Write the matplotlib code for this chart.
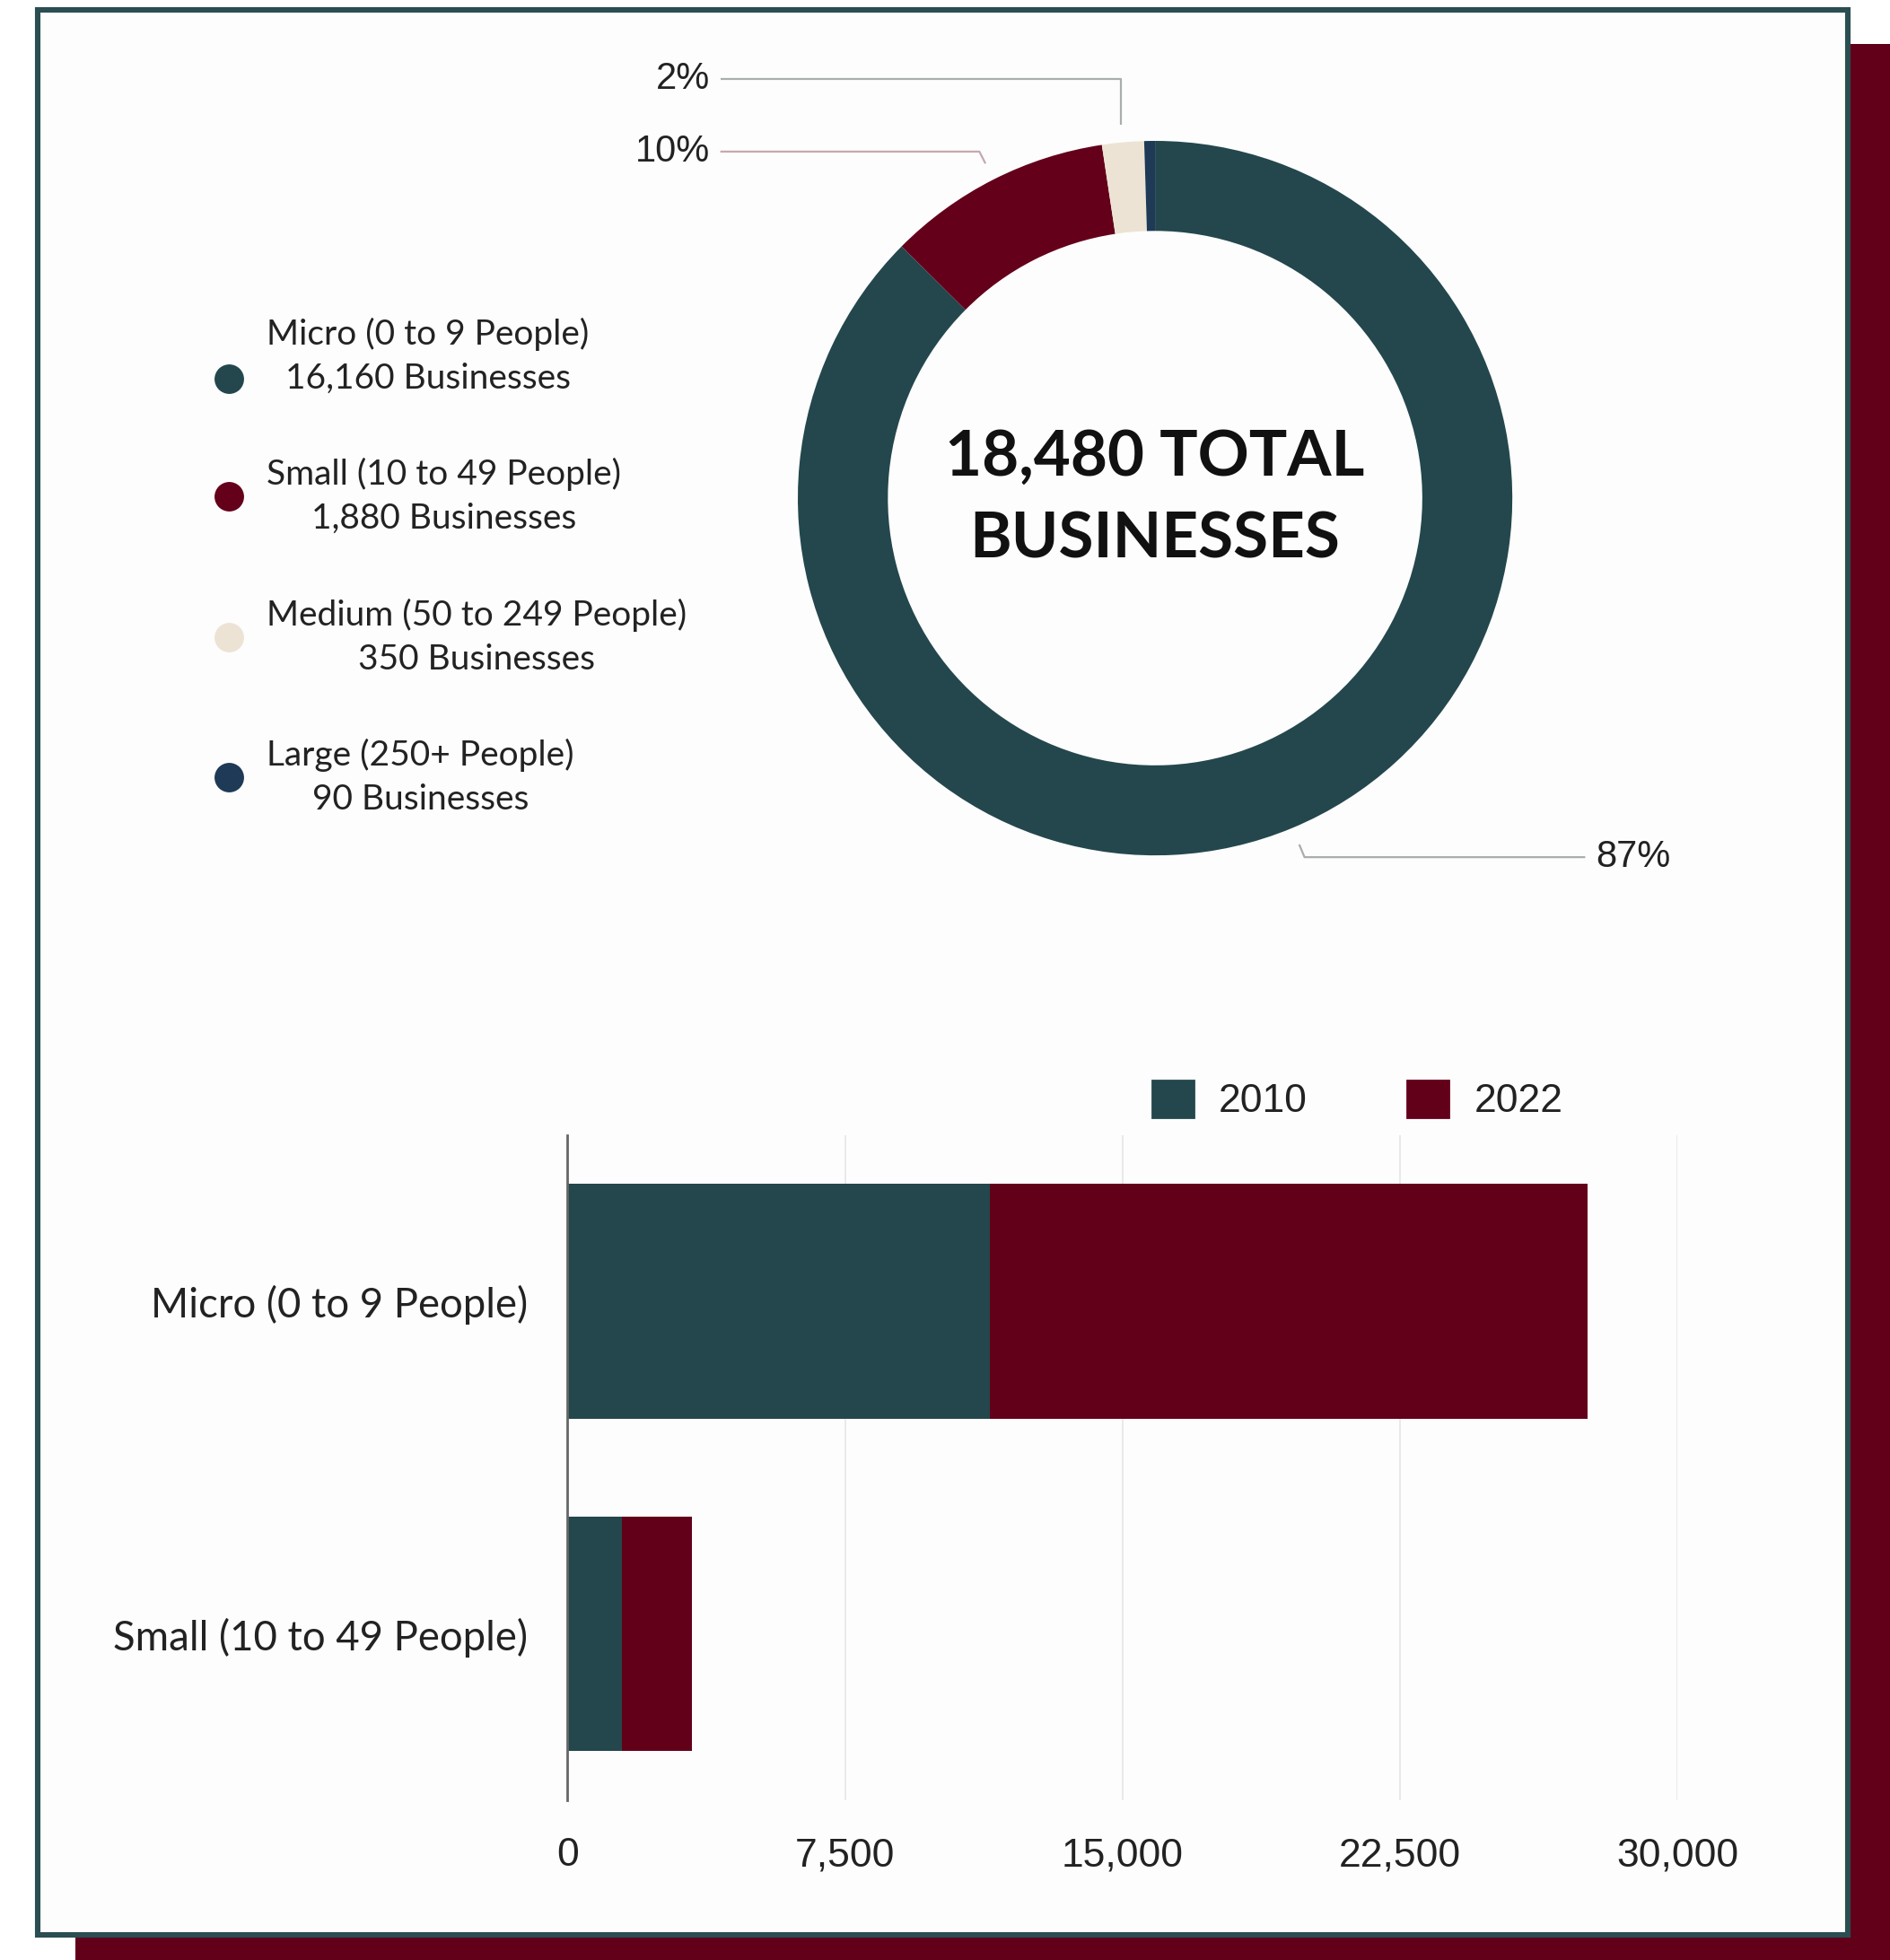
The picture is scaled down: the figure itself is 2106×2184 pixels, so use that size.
import matplotlib.pyplot as plt
import numpy as np
from matplotlib.patches import Rectangle, Patch

# Business counts by size band
sizes = ['Micro (0 to 9 People)', 'Small (10 to 49 People)',
         'Medium (50 to 249 People)', 'Large (250+ People)']
counts = [16160, 1880, 350, 90]
size_colors = ['#23474c', '#64001a', '#ede3d4', '#1e3a56']

# Stacked bars, 2010 vs 2022
bar_cats = ['Micro (0 to 9 People)', 'Small (10 to 49 People)']
bars_2010 = [11410, 1470]
bars_2022 = [16160, 1880]
xticks = [0, 7500, 15000, 22500, 30000]

TEAL = '#23474c'
MAROON = '#62001a'
W, H = 2106, 2184

fig = plt.figure(figsize=(W / 200, H / 200), dpi=200)
fig.patch.set_facecolor('white')

# pixel-space overlay for the frame and the left legend
ov = fig.add_axes([0, 0, 1, 1])
ov.set_xlim(0, W)
ov.set_ylim(H, 0)
ov.axis('off')
ov.add_patch(Rectangle((84, 49), W, H, facecolor=MAROON, edgecolor='none', zorder=0))
ov.add_patch(Rectangle((42, 11), 2017, 2145, facecolor='#fdfdfd', edgecolor='#2a4e52',
                       linewidth=2.2, zorder=1))

legend_y = [397, 553, 710, 866]
dot_y = [422, 553, 710, 866]
for name, n, c, ty, dy in zip(sizes, counts, size_colors, legend_y, dot_y):
    ov.scatter([255], [dy], s=140, color=c, zorder=3, linewidths=0)
    ov.text(297, ty, f'{name}\n{n:,} Businesses', ha='left', va='center',
            multialignment='center', fontsize=14, family='Lato', color='#222222',
            linespacing=1.45, zorder=3)

# donut
ax_d = fig.add_axes([0.3654, 0.5089, 0.4915, 0.4739])
ax_d.patch.set_alpha(0)
wedges, _ = ax_d.pie(counts, colors=size_colors, startangle=90, counterclock=False,
                     radius=1, wedgeprops=dict(width=0.252, linewidth=0))
ax_d.set_xlim(-1.3, 1.3)
ax_d.set_ylim(-1.3, 1.3)
ax_d.set_aspect('equal')
ax_d.axis('off')

total = sum(counts)
ax_d.text(0, 0, f'{total:,} TOTAL\nBUSINESSES', ha='center', va='center',
          fontsize=25.5, fontweight='bold', family='Lato', color='#111111',
          linespacing=1.5)

# leader lines and percentage labels: (label x, label y, colour, vertical riser)
label_spots = {0: (1.234, -1.005, '#a9adad', False),
               1: (-1.245, 0.970, '#c4a9ae', False),
               2: (-1.245, 1.173, '#a9adad', True)}
for i, (lx, ly, lc, vertical) in label_spots.items():
    w = wedges[i]
    mid = np.deg2rad((w.theta1 + w.theta2) / 2)
    dx, dy = np.cos(mid), np.sin(mid)
    tip = np.array([dx, dy]) * 1.05
    if vertical:
        elbow = np.array([tip[0], ly])
    else:
        elbow = tip + (ly - tip[1]) / dy * np.array([dx, dy])
    end_x = lx + 0.028 if lx < 0 else lx - 0.03
    ax_d.plot([tip[0], elbow[0], end_x], [tip[1], elbow[1], ly],
              color=lc, linewidth=0.8, solid_capstyle='butt')
    pct = f'{counts[i] / total * 100:.0f}%'
    ax_d.text(lx, ly, pct, ha='right' if lx < 0 else 'left', va='center',
              fontsize=15, family='Liberation Sans', color='#222222')

# stacked bar chart
ax_b = fig.add_axes([0.3003, 0.0816, 0.5873, 0.3393])
ax_b.patch.set_alpha(0)
y = np.arange(len(bar_cats))
ax_b.barh(y, bars_2010, height=0.705, color=TEAL, label='2010', zorder=2)
ax_b.barh(y, bars_2022, left=bars_2010, height=0.705, color=MAROON, label='2022', zorder=2)
ax_b.set_xlim(0, 30000)
ax_b.set_ylim(1.5, -0.5)
ax_b.set_xticks(xticks)
ax_b.set_xticklabels([f'{v:,}' for v in xticks], fontsize=16, family='Liberation Sans',
                     color='#222222')
ax_b.set_yticks(y)
ax_b.set_yticklabels(bar_cats, fontsize=16.4, family='Lato', color='#222222')
ax_b.tick_params(axis='x', length=0, pad=15)
ax_b.tick_params(axis='y', length=0, pad=16)
ax_b.grid(axis='x', color='#e6e6e6', linewidth=0.6, zorder=0)
for s in ['top', 'right', 'bottom']:
    ax_b.spines[s].set_visible(False)
ax_b.spines['left'].set_color('#666666')
ax_b.spines['left'].set_linewidth(1.0)
ax_b.spines['left'].set_zorder(3)

handles = [Patch(color=TEAL, label='2010'), Patch(color=MAROON, label='2022')]
leg = ax_b.legend(handles=handles, loc='center left',
                  bbox_to_anchor=(1284 / W, 1 - 1226 / H), bbox_transform=fig.transFigure,
                  ncol=2, frameon=False, borderpad=0, borderaxespad=0,
                  handlelength=1.04, handleheight=1.04, handletextpad=0.63,
                  columnspacing=2.5, prop={'family': 'Liberation Sans', 'size': 16})
for t in leg.get_texts():
    t.set_color('#222222')

fig.savefig('out.png', dpi=200, facecolor='white')
